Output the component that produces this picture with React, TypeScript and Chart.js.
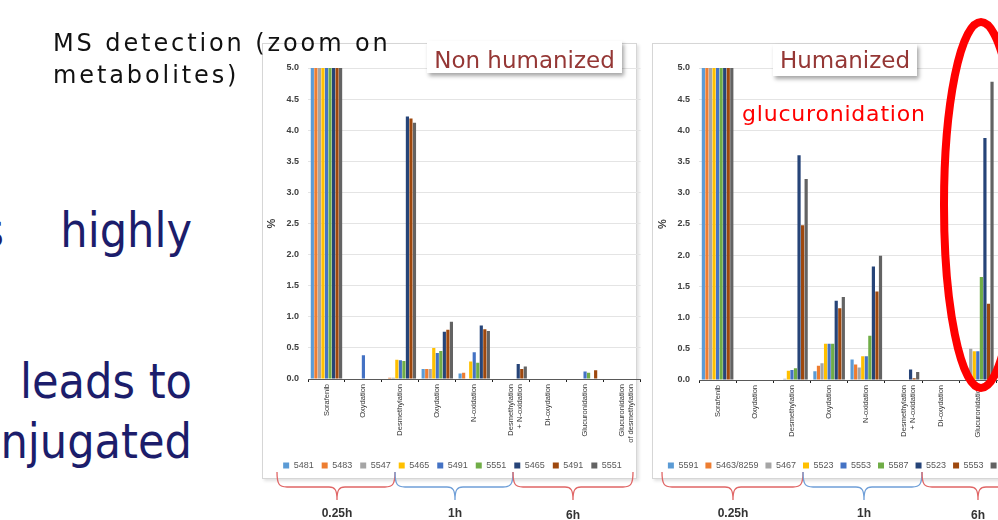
import React, { useEffect, useRef } from "react";
import { Chart, registerables } from "chart.js";
Chart.register(...registerables);

// ---------- data ----------
const categories: (string | string[])[] = [
  "Sorafenib",
  "Oxydation",
  "Desmethylation",
  "Oxydation",
  "N-oxidation",
  ["Desmethylation", "+ N-oxidation"],
  "Di-oxydation",
  "Glucuronidation",
  ["Glucuronidation", "of desmethylation"],
];

const yMin = 0;
const yMax = 5;
const yStep = 0.5;

const seriesColors = [
  "#5B9BD5", "#ED7D31", "#A5A5A5", "#FFC000", "#4472C4",
  "#70AD47", "#264478", "#9E480E", "#636363",
];

// Non humanized
const nonHumLabels = ["5481", "5483", "5547", "5465", "5491", "5551", "5465", "5491", "5551"];
const nh5481 = [5, 0, 0, 0.16, 0.09, 0, 0, 0, 0];
const nh5483 = [5, 0, 0.02, 0.16, 0.1, 0, 0, 0, 0];
const nh5547 = [5, 0, 0.02, 0.16, 0, 0, 0, 0, 0];
const nh5465_1h = [5, 0, 0.31, 0.5, 0.28, 0, 0, 0, 0];
const nh5491_1h = [5, 0.38, 0.3, 0.42, 0.43, 0, 0, 0.12, 0];
const nh5551_1h = [5, 0, 0.29, 0.45, 0.26, 0, 0, 0.1, 0];
const nh5465_6h = [5, 0, 4.22, 0.76, 0.86, 0.24, 0, 0, 0];
const nh5491_6h = [5, 0, 4.19, 0.79, 0.8, 0.16, 0, 0.14, 0];
const nh5551_6h = [5, 0, 4.12, 0.92, 0.77, 0.2, 0, 0, 0];

// Humanized
const humLabels = ["5591", "5463/8259", "5467", "5523", "5553", "5587", "5523", "5553", "5587"];
const h5591 = [5, 0, 0, 0.14, 0.33, 0, 0, 0, 0];
const h5463 = [5, 0, 0, 0.23, 0.25, 0, 0, 0, 0];
const h5467 = [5, 0, 0.02, 0.27, 0.2, 0, 0, 0.5, 0];
const h5523_1h = [5, 0, 0.15, 0.58, 0.38, 0, 0, 0.46, 0];
const h5553_1h = [5, 0, 0.16, 0.58, 0.38, 0, 0, 0.46, 0];
const h5587_1h = [5, 0, 0.19, 0.58, 0.71, 0, 0, 1.65, 0];
const h5523_6h = [5, 0, 3.6, 1.27, 1.82, 0.17, 0, 3.88, 0];
const h5553_6h = [5, 0, 2.48, 1.15, 1.42, 0.03, 0, 1.22, 0];
const h5587_6h = [5, 0, 3.22, 1.33, 1.99, 0.13, 0, 4.78, 0];

const timeLabels = ["0.25h", "1h", "6h"];

// ---------- chart ----------
function makeConfig(seriesLabels: string[], series: number[][], legendPad: number): any {
  return {
    type: "bar",
    data: {
      labels: categories,
      datasets: series.map((d, i) => ({
        label: seriesLabels[i],
        data: d,
        backgroundColor: seriesColors[i],
        borderWidth: 0,
        barPercentage: 0.9,
        categoryPercentage: 0.86,
      })),
    },
    options: {
      animation: false,
      responsive: false,
      maintainAspectRatio: false,
      events: [],
      layout: { padding: { top: 28, bottom: 0, left: 0, right: 0 } },
      plugins: {
        tooltip: { enabled: false },
        legend: {
          position: "bottom",
          labels: {
            boxWidth: 6,
            boxHeight: 6,
            padding: legendPad,
            color: "#595959",
            font: { size: 9, family: "Liberation Sans" },
          },
        },
      },
      scales: {
        x: {
          grid: {
            display: true,
            drawOnChartArea: false,
            drawTicks: true,
            tickLength: 3,
            color: "#222",
            offset: true,
          },
          border: { display: true, color: "#595959", width: 1 },
          ticks: {
            autoSkip: false,
            maxRotation: 90,
            minRotation: 90,
            padding: 2,
            color: "#333",
            font: { size: 7.5, family: "Liberation Sans" },
          },
          afterFit: (a: any) => {
            a.height = 74;
          },
        },
        y: {
          min: yMin,
          max: yMax,
          ticks: {
            stepSize: yStep,
            padding: 9,
            color: "#404040",
            font: { size: 9, weight: "bold", family: "Liberation Sans" },
            callback: (v: any) => Number(v).toFixed(1),
          },
          grid: { color: "#e4e4e4", drawTicks: false },
          border: { display: false },
          title: {
            display: true,
            text: "%",
            color: "#404040",
            padding: 2,
            font: { size: 11, weight: "bold", family: "Liberation Sans" },
          },
          afterFit: (a: any) => {
            a.width = 45;
          },
        },
      },
    },
  };
}

function BarPanel(props: {
  left: number;
  top: number;
  width: number;
  height: number;
  seriesLabels: string[];
  series: number[][];
  legendPad: number;
}) {
  const ref = useRef<HTMLCanvasElement>(null);
  useEffect(() => {
    const chart = new Chart(
      ref.current as HTMLCanvasElement,
      makeConfig(props.seriesLabels, props.series, props.legendPad)
    );
    return () => chart.destroy();
  }, []);
  return (
    <canvas
      ref={ref}
      width={props.width}
      height={props.height}
      style={{ position: "absolute", left: props.left, top: props.top, width: props.width, height: props.height }}
    />
  );
}

// ---------- decorations ----------
function bracePath(x1: number, x2: number, m: number) {
  return `M ${x1} 472 C ${x1} 484, ${x1 + 2} 487, ${x1 + 10} 487 L ${m - 8} 487 C ${m - 2} 487, ${m} 490, ${m} 500 C ${m} 490, ${m + 2} 487, ${m + 8} 487 L ${x2 - 10} 487 C ${x2 - 2} 487, ${x2} 484, ${x2} 472`;
}

const braces = [
  { x1: 277, x2: 395, m: 337, color: "#e06666", label: 0, ly: 517 },
  { x1: 395, x2: 513, m: 455, color: "#6f9fd8", label: 1, ly: 517 },
  { x1: 513, x2: 633, m: 573, color: "#e06666", label: 2, ly: 519 },
  { x1: 662, x2: 803, m: 733, color: "#e06666", label: 0, ly: 517 },
  { x1: 803, x2: 922, m: 864, color: "#6f9fd8", label: 1, ly: 517 },
  { x1: 922, x2: 1040, m: 978, color: "#e06666", label: 2, ly: 519 },
];

const navy = "#1c1d6b";
const bigText: React.CSSProperties = {
  position: "absolute",
  fontFamily: "DejaVu Sans",
  fontStretch: "condensed",
  fontSize: 48,
  lineHeight: "48px",
  color: navy,
  whiteSpace: "pre",
};

export default function App() {
  return (
    <div
      style={{
        position: "fixed",
        left: 0,
        top: 0,
        width: 998,
        height: 520,
        overflow: "hidden",
        background: "#fff",
        fontFamily: "DejaVu Sans",
      }}
    >
      {/* panels */}
      <div
        style={{
          position: "absolute",
          left: 262,
          top: 43,
          width: 373,
          height: 434,
          border: "1px solid #d6d6d6",
          boxShadow: "2px 2px 3px rgba(0,0,0,0.12)",
          background: "#fff",
        }}
      />
      <div
        style={{
          position: "absolute",
          left: 652,
          top: 43,
          width: 420,
          height: 434,
          border: "1px solid #d6d6d6",
          boxShadow: "2px 2px 3px rgba(0,0,0,0.12)",
          background: "#fff",
        }}
      />

      <BarPanel
        left={263}
        top={40}
        width={379}
        height={440}
        legendPad={8}
        seriesLabels={nonHumLabels}
        series={[nh5481, nh5483, nh5547, nh5465_1h, nh5491_1h, nh5551_1h, nh5465_6h, nh5491_6h, nh5551_6h]}
      />
      <BarPanel
        left={654}
        top={40}
        width={381}
        height={440}
        legendPad={7}
        seriesLabels={humLabels}
        series={[h5591, h5463, h5467, h5523_1h, h5553_1h, h5587_1h, h5523_6h, h5553_6h, h5587_6h]}
      />

      {/* titles */}
      <div
        style={{
          position: "absolute",
          left: 427,
          top: 41,
          width: 195,
          height: 32,
          background: "#fff",
          boxShadow: "2px 3px 4px rgba(0,0,0,0.35)",
        }}
      />
      <div
        style={{
          position: "absolute",
          left: 427,
          top: 48.6,
          width: 195,
          textAlign: "center",
          fontSize: 23,
          lineHeight: "23px",
          color: "#953735",
          whiteSpace: "pre",
        }}
      >
        Non humanized
      </div>
      <div
        style={{
          position: "absolute",
          left: 773,
          top: 44,
          width: 144,
          height: 32,
          background: "#fff",
          boxShadow: "2px 3px 4px rgba(0,0,0,0.35)",
        }}
      />
      <div
        style={{
          position: "absolute",
          left: 773,
          top: 48.6,
          width: 144,
          textAlign: "center",
          fontSize: 23,
          lineHeight: "23px",
          color: "#953735",
          whiteSpace: "pre",
        }}
      >
        Humanized
      </div>
      <div
        style={{
          position: "absolute",
          left: 742,
          top: 103,
          fontSize: 22,
          lineHeight: "22px",
          letterSpacing: 0.8,
          color: "#ff0000",
          whiteSpace: "pre",
        }}
      >
        glucuronidation
      </div>

      {/* left slide text */}
      <div
        style={{
          position: "absolute",
          left: 53,
          top: 27,
          fontSize: 24,
          lineHeight: "32px",
          letterSpacing: 2.9,
          color: "#111",
          whiteSpace: "pre",
        }}
      >
        {"MS detection (zoom on\nmetabolites)"}
      </div>
      <div style={{ ...bigText, right: 998 - 4, top: 247 - 40.6 }}>is</div>
      <div style={{ ...bigText, right: 998 - 192, top: 247 - 40.6 }}>highly</div>
      <div style={{ ...bigText, right: 998 - 192, top: 398 - 40.6 }}>leads to</div>
      <div style={{ ...bigText, right: 998 - 192, top: 458 - 40.6 }}>conjugated</div>

      {/* braces, labels and highlight */}
      <svg width={998} height={520} style={{ position: "absolute", left: 0, top: 0 }}>
        {braces.map((b, i) => (
          <g key={i}>
            <path d={bracePath(b.x1, b.x2, b.m)} fill="none" stroke={b.color} strokeWidth={1.3} />
            <text
              x={b.m}
              y={b.ly}
              textAnchor="middle"
              fontFamily="Liberation Sans"
              fontWeight="bold"
              fontSize={12}
              fill="#333"
            >
              {timeLabels[b.label]}
            </text>
          </g>
        ))}
        <ellipse cx={981} cy={205} rx={37} ry={183} fill="none" stroke="#ff0000" strokeWidth={8} />
      </svg>
    </div>
  );
}
